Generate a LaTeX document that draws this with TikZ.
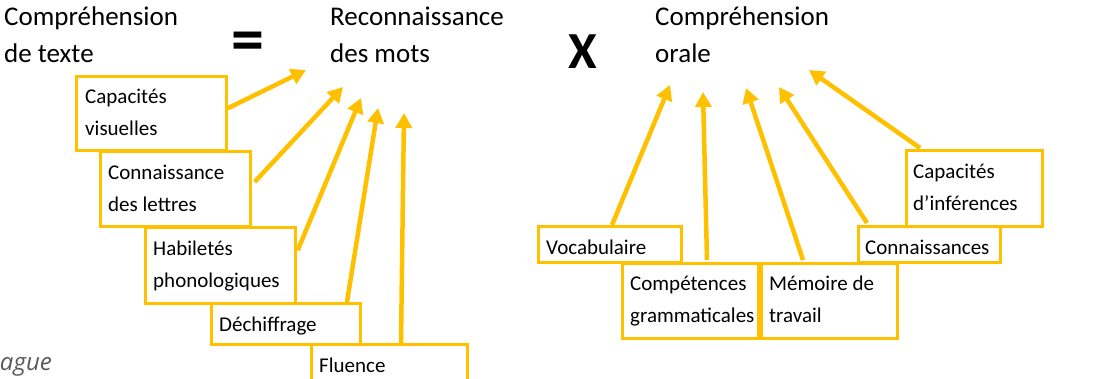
\documentclass[tikz,border=0pt]{standalone}
\usepackage{fontspec}
\setmainfont{Carlito}
\newfontfamily\osfont{Open Sans}
\usetikzlibrary{arrows.meta,calc}
\definecolor{gold}{HTML}{FFC000}
\definecolor{greytxt}{HTML}{595959}
\begin{document}
\begin{tikzpicture}[x=1pt,y=-1pt,
  box/.style={draw=gold,line width=2.7pt,inner sep=0,anchor=north west},
  title/.style={anchor=base west,inner sep=0,font=\fontsize{27}{37}\selectfont,align=left},
  lbl/.style={anchor=base west,inner sep=0,font=\fontsize{21}{32}\selectfont,align=left},
  arr/.style={draw=gold,line width=4.5pt,-{Triangle[width=16pt,length=15pt]}}]
\useasboundingbox (0,0) rectangle (1096,379);

% titles (anchor = baseline of the last line)
\node[title] (ct) at (4,63) {Compréhension\\de texte};
\node[anchor=center,inner sep=0,font=\fontsize{66}{66}\selectfont\bfseries] (eq) at (248,47) {=};
\node[title] (rm) at (330,63) {Reconnaissance\\des mots};
\node[anchor=center,inner sep=0,font=\fontsize{52}{52}\selectfont\bfseries] (x) at (583,52) {X};
\node[title] (co) at (655,63) {Compréhension\\orale};
\node[anchor=base east,inner sep=0,font=\osfont\itshape\fontsize{24}{24}\selectfont,text=greytxt] (src) at (52,371) {ague};

% left boxes
\node[box,minimum width=150pt,minimum height=74pt] (b1) at (75,75) {};
\node[lbl] (b1t) at (85,136) {Capacités\\visuelles};
\node[box,minimum width=150pt,minimum height=75pt] (b2) at (99,150) {};
\node[lbl] (b2t) at (108,212) {Connaissance\\des lettres};
\node[box,minimum width=150pt,minimum height=76pt] (b3) at (144,226) {};
\node[lbl] (b3t) at (153,288) {Habiletés\\phonologiques};
\node[box,minimum width=149pt,minimum height=41pt] (b4) at (210,302) {};
\node[lbl] (b4t) at (219,332) {Déchiffrage};
\node[box,minimum width=156pt,minimum height=45pt] (b5) at (310,343) {};
\node[lbl] (b5t) at (319,373) {Fluence};

% right boxes
\node[box,minimum width=143pt,minimum height=36pt] (vb) at (537,225) {};
\node[lbl] (vbt) at (546,255) {Vocabulaire};
\node[box,minimum width=136pt,minimum height=75pt] (cg) at (621,262) {};
\node[lbl] (cgt) at (630,323) {Compétences\\grammaticales};
\node[box,minimum width=136pt,minimum height=75pt] (mt) at (760,262) {};
\node[lbl] (mtt) at (769,323) {Mémoire de\\travail};
\node[box,minimum width=142pt,minimum height=36pt] (cn) at (857,225) {};
\node[lbl] (cnt) at (865,255) {Connaissances};
\node[box,minimum width=136pt,minimum height=76pt] (ci) at (905,149) {};
\node[lbl] (cit) at (913,211) {Capacités\\d’inférences};

% arrow tips
\coordinate (t1) at (306,70);
\coordinate (t2) at (343,87);
\coordinate (t3) at (361,98);
\coordinate (t4) at (378,108);
\coordinate (t5) at (404,113);
\coordinate (u1) at (670,85);
\coordinate (u2) at (703,92);
\coordinate (u3) at (746,88);
\coordinate (u4) at (779,87);
\coordinate (u5) at (809,70);

% left arrows
\draw[arr] ([yshift=5pt]b1.east) -- (t1);
\draw[arr] ([xshift=3pt,yshift=7pt]b2.east) -- (t2);
\draw[arr] ([xshift=1pt,yshift=15pt]b3.east) -- (t3);
\draw[arr] ([xshift=137pt]b4.north west) -- (t4);
\draw[arr] ([xshift=91pt]b5.north west) -- (t5);

% right arrows
\draw[arr] ([xshift=75pt]vb.north west) -- (u1);
\draw[arr] ([xshift=86pt,yshift=2pt]cg.north west) -- (u2);
\draw[arr] ([xshift=43pt,yshift=2pt]mt.north west) -- (u3);
\draw[arr] ([xshift=10pt,yshift=2pt]cn.north west) -- (u4);
\draw[arr] ([xshift=15pt,yshift=1pt]ci.north west) -- (u5);
\end{tikzpicture}
\end{document}
